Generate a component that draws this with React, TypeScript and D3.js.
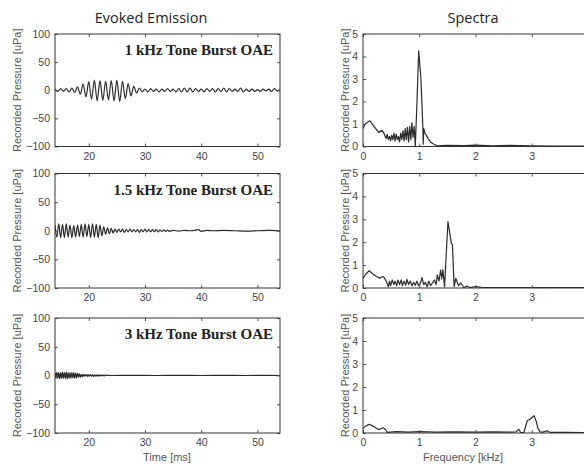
import React, { useEffect, useRef } from "react";
import * as d3 from "d3";

// axis ticks
const timeTicks = [20, 30, 40, 50];
const pressureTicks = [-100, -50, 0, 50, 100];
const freqTicks = [0, 1, 2, 3];
const spectrumTicks = [0, 1, 2, 3, 4, 5];

const panelLabels = ["1 kHz Tone Burst OAE", "1.5 kHz Tone Burst OAE", "3 kHz Tone Burst OAE"];

// evoked emission traces: successive peak / trough values [uPa],
// one every half period of the tone, starting at 14 ms
const traceStart = 14;
const halfPeriods = [0.5, 1 / 3, 1 / 6];

const peaks1kHz = [
  2, -2, 3, -2, 3, -3, 4, -4, 6, -7, 11, -12, 15, -16, 18, -19, 17, -18, 16, -17,
  17, -19, 18, -20, 16, -15, 12, -10, 7, -5, 4, -3, 2, -3, 3, -2, 2, -3, 2, -2,
  3, -2, 2, -3, 3, -3, 4, -3, 4, -3, 3, -2, 2, -3, 3, -2, 3, -3, 3, -2,
  4, -3, 3, -2, 2, -2, 4, -3, 2, -2, 2, -2, 1, -2, 2, -1, 2, -2, 3, -1, 1,
];
const peaks1_5kHz = [
  10, -11, 12, -12, 11, -12, 12, -11, 10, -12,
  9, -11, 10, -10, 11, -11, 12, -10, 11, -12,
  12, -11, 11, -12, 10, -9,
  7, -6, 5, -5, 4, -4, 3, -3,
  3, -2, 3, -3, 2, -2, 3, -2, 2, -2, 2, -3, 2, -2, 3,
];
const peaks3kHz = [
  5, -5, 6, -5, 5, -6, 5, -5, 6, -5, 5, -5, 6, -6, 5, -5, 5, -5, 5, -4, 5, -5, 4, -4, 4,
  -3, 3, -3, 2, -2, 2,
  -1.5, 1.5, -1, 1.5, -1.5, 1, -1, 1.5, -1, 1, -1.5, 1, -1, 1, -1, 1, -1, 1, -0.5, 1, -0.5, 0.5, -0.5, 0.5,
];

// quiet remainder of the traces [ms, uPa]
const tail1kHz: [number, number][] = [];
const tail1_5kHz: [number, number][] = [
  [30.33, -2], [30.67, 2], [31, -2], [31.33, 2], [31.67, -1.5], [32, 2], [32.33, -2],
  [32.67, 1.5], [33, -1.5], [33.33, 1.5], [33.67, -1], [34, 1], [34.33, -1], [35, 0.5],
  [36, -0.5], [37, 0.5], [38, 0], [39, 1], [39.5, 2], [40, -1], [41, 0.5], [42, 0],
  [44, 0.5], [46, 0], [48, -0.5], [50, 0], [52, 0.5], [54, 0],
];
const tail3kHz: [number, number][] = [
  [24, 0], [28, 0.3], [32, 0], [36, 0.3], [40, 0], [44, 0.2], [48, 0], [52, 0.2], [54, 0],
];

// spectra [kHz, uPa]
const spectrum1kHz: [number, number][] = [
  [0, 0.8], [0.04, 1.0], [0.12, 1.15], [0.18, 0.95], [0.24, 0.75], [0.28, 0.62], [0.33, 0.72],
  [0.37, 0.6], [0.41, 0.35], [0.43, 0.55], [0.45, 0.3], [0.47, 0.45], [0.49, 0.25], [0.51, 0.5],
  [0.53, 0.3], [0.55, 0.6], [0.57, 0.25], [0.59, 0.55], [0.61, 0.3], [0.63, 0.45], [0.65, 0.2],
  [0.67, 0.6], [0.69, 0.3], [0.71, 0.7], [0.73, 0.25], [0.75, 0.8], [0.77, 0.3], [0.79, 0.85],
  [0.81, 0.2], [0.83, 0.9], [0.85, 0.3], [0.87, 1.05], [0.89, 0.4], [0.91, 0.9], [0.93, 0.02],
  [0.96, 2.0], [0.99, 4.25], [1.03, 3.0], [1.065, 0.8], [1.07, 0.1], [1.08, 0.8], [1.1, 0.6],
  [1.16, 0.35], [1.2, 0.2], [1.26, 0.1], [1.32, 0.03], [1.5, 0.05], [1.8, 0.04], [2.0, 0.06],
  [2.3, 0.03], [2.6, 0.05], [3.0, 0.03], [3.5, 0.02], [4, 0.02],
];
const spectrum1_5kHz: [number, number][] = [
  [0, 0.42], [0.05, 0.6], [0.11, 0.76], [0.17, 0.62], [0.24, 0.5], [0.3, 0.43], [0.35, 0.5],
  [0.38, 0.45], [0.42, 0.25], [0.45, 0.05], [0.47, 0.3], [0.49, 0.1], [0.52, 0.35], [0.55, 0.15],
  [0.57, 0.3], [0.6, 0.1], [0.62, 0.35], [0.65, 0.15], [0.68, 0.35], [0.7, 0.1], [0.73, 0.3],
  [0.76, 0.12], [0.78, 0.38], [0.81, 0.15], [0.84, 0.3], [0.87, 0.1], [0.9, 0.25], [0.93, 0.12],
  [0.96, 0.3], [0.99, 0.1], [1.02, 0.2], [1.05, 0.45], [1.08, 0.15], [1.11, 0.25], [1.14, 0.05],
  [1.17, 0.3], [1.2, 0.1], [1.23, 0.2], [1.27, 0.35], [1.3, 0.15], [1.32, 0.57], [1.35, 0.3],
  [1.38, 0.78], [1.4, 0.4], [1.42, 0.8], [1.45, 0.05], [1.51, 2.9], [1.57, 1.96], [1.59, 1.9],
  [1.62, 0.06], [1.65, 0.42], [1.7, 0.1], [1.74, 0.22], [1.79, 0.02], [1.85, 0.08], [1.9, 0.02],
  [2.0, 0.06], [2.1, 0.03], [2.4, 0.02], [3, 0.02], [4, 0.02],
];
const spectrum3kHz: [number, number][] = [
  [0, 0.2], [0.05, 0.3], [0.11, 0.38], [0.18, 0.3], [0.25, 0.18], [0.3, 0.16], [0.36, 0.23],
  [0.4, 0.15], [0.43, 0.03], [0.6, 0.06], [0.8, 0.04], [1.0, 0.06], [1.3, 0.04], [1.6, 0.05],
  [2.0, 0.04], [2.3, 0.05], [2.6, 0.04], [2.72, 0.05], [2.77, 0.16], [2.8, 0.03], [2.86, 0.02],
  [2.92, 0.53], [2.97, 0.6], [3.04, 0.75], [3.08, 0.5], [3.11, 0.2], [3.15, 0.05], [3.2, 0.04],
  [3.27, 0.1], [3.32, 0.03], [3.6, 0.03], [4, 0.02],
];

const tracePeaks = [peaks1kHz, peaks1_5kHz, peaks3kHz];
const traceTails = [tail1kHz, tail1_5kHz, tail3kHz];
const spectra = [spectrum1kHz, spectrum1_5kHz, spectrum3kHz];

export default function App() {
  const svgRef = useRef<SVGSVGElement>(null);
  const width = 584;
  const height = 464;

  useEffect(() => {
    const svg = d3.select(svgRef.current);
    svg.selectAll("*").remove();

    const rows = [
      { top: 34, bottom: 146.5 },
      { top: 173.5, bottom: 288 },
      { top: 318, bottom: 433 },
    ];
    const leftCol = [55, 280];
    const rightCol = [363, 588];
    const ink = "#333";
    const tickFont = "'Liberation Sans', Arial, sans-serif";

    // draw one boxed panel in MATLAB style (inward ticks on all sides)
    function panel(
      id: string,
      x: d3.ScaleLinear<number, number>,
      y: d3.ScaleLinear<number, number>,
      xTicks: number[],
      yTicks: number[],
      data: [number, number][],
      curve: d3.CurveFactory
    ) {
      const [x0, x1] = x.range();
      const [y0, y1] = y.range();
      const g = svg.append("g");

      g.append("clipPath").attr("id", id)
        .append("rect").attr("x", x0).attr("y", y1).attr("width", x1 - x0).attr("height", y0 - y1);

      g.append("path")
        .datum(data)
        .attr("clip-path", `url(#${id})`)
        .attr("fill", "none")
        .attr("stroke", "#2b2b2b")
        .attr("stroke-width", 1.2)
        .attr("stroke-linejoin", "round")
        .attr("d", d3.line<[number, number]>().x(d => x(d[0])).y(d => y(d[1])).curve(curve));

      const style = (a: d3.Selection<SVGGElement, unknown, null, undefined>) => {
        a.select(".domain").remove();
        a.selectAll("line").attr("stroke", "#555");
        a.selectAll("text").attr("fill", "#444").style("font-family", tickFont).style("font-size", "10.5px");
      };

      g.append("g").attr("transform", `translate(0,${y0})`)
        .call(d3.axisBottom(x).tickValues(xTicks).tickSize(-3).tickPadding(6).tickFormat(d3.format("d")))
        .call(style);
      g.append("g").attr("transform", `translate(0,${y1})`)
        .call(d3.axisTop(x).tickValues(xTicks).tickSize(-3).tickFormat(() => ""))
        .call(style);
      g.append("g").attr("transform", `translate(${x0},0)`)
        .call(d3.axisLeft(y).tickValues(yTicks).tickSize(-3).tickPadding(5).tickFormat(d3.format("d")))
        .call(style);
      g.append("g").attr("transform", `translate(${x1},0)`)
        .call(d3.axisRight(y).tickValues(yTicks).tickSize(-3).tickFormat(() => ""))
        .call(style);

      g.append("rect")
        .attr("x", x0).attr("y", y1).attr("width", x1 - x0).attr("height", y0 - y1)
        .attr("fill", "none").attr("stroke", ink).attr("stroke-width", 1);
    }

    rows.forEach((row, i) => {
      // evoked emission trace
      const xt = d3.scaleLinear().domain([14, 54]).range(leftCol);
      const yp = d3.scaleLinear().domain([-100, 100]).range([row.bottom, row.top]);
      const trace: [number, number][] = tracePeaks[i]
        .map((v, k) => [traceStart + k * halfPeriods[i], v] as [number, number])
        .concat(traceTails[i]);
      panel(`clip-t${i}`, xt, yp, timeTicks, pressureTicks, trace, d3.curveMonotoneX);

      svg.append("text")
        .attr("x", 273).attr("y", row.top + 21)
        .attr("text-anchor", "end")
        .style("font-family", "'Liberation Serif', 'Times New Roman', serif")
        .style("font-weight", "bold")
        .style("font-size", "15px")
        .attr("fill", "#222")
        .text(panelLabels[i]);

      // spectrum
      const xf = d3.scaleLinear().domain([0, 4]).range(rightCol);
      const ys = d3.scaleLinear().domain([0, 5]).range([row.bottom, row.top]);
      panel(`clip-s${i}`, xf, ys, freqTicks, spectrumTicks, spectra[i], d3.curveLinear);

      // y axis titles
      const mid = (row.top + row.bottom) / 2;
      [20.5, 349].forEach(px => {
        svg.append("text")
          .attr("transform", `translate(${px},${mid}) rotate(-90)`)
          .attr("text-anchor", "middle")
          .style("font-family", tickFont)
          .style("font-size", "11px")
          .attr("fill", "#555")
          .text("Recorded Pressure [uPa]");
      });
    });

    // column titles
    const titles = [
      { x: 151, text: "Evoked Emission" },
      { x: 473, text: "Spectra" },
    ];
    titles.forEach(t => {
      svg.append("text")
        .attr("x", t.x).attr("y", 22.5)
        .attr("text-anchor", "middle")
        .style("font-family", "'Open Sans', Lato, sans-serif")
        .style("font-size", "14.5px")
        .attr("fill", "#222")
        .text(t.text);
    });

    // x axis titles
    [
      { x: 167, text: "Time [ms]" },
      { x: 463, text: "Frequency [kHz]" },
    ].forEach(t => {
      svg.append("text")
        .attr("x", t.x).attr("y", 461)
        .attr("text-anchor", "middle")
        .style("font-family", tickFont)
        .style("font-size", "11px")
        .attr("fill", "#555")
        .text(t.text);
    });
  }, []);

  return (
    <svg
      ref={svgRef}
      width={width}
      height={height}
      style={{ position: "absolute", left: 0, top: 0, background: "#fff" }}
    ></svg>
  );
}
